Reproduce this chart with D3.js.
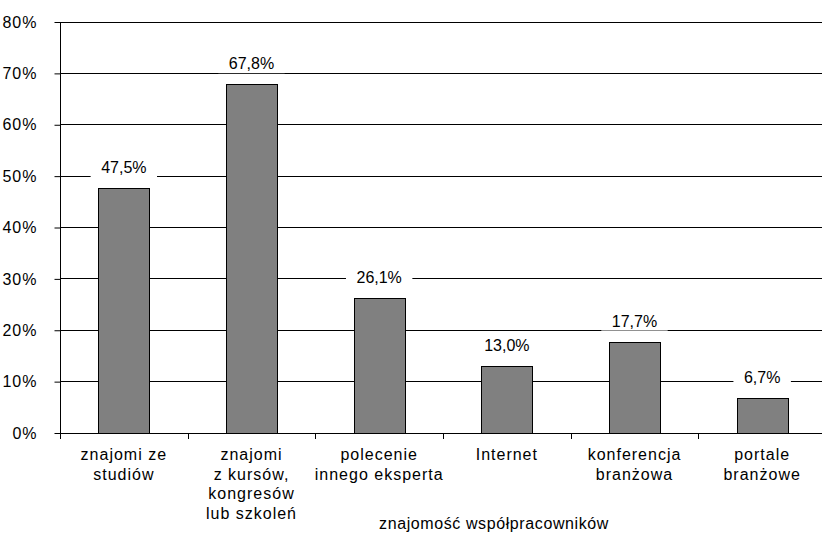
<!DOCTYPE html>
<html>
<head>
<meta charset="utf-8">
<script src="https://cdn.jsdelivr.net/npm/d3@7"></script>
<style>
  html, body { margin: 0; padding: 0; background: #fff; overflow: hidden; }
  svg { display: block; }
  text { font-family: "Liberation Sans", Arial, sans-serif; fill: #000; }
</style>
</head>
<body>
<svg id="chart" width="822" height="534"></svg>
<script>
// Źródła kontaktu z ekspertem
const categories = [
  ["znajomi ze", "studiów"],
  ["znajomi", "z kursów,", "kongresów", "lub szkoleń"],
  ["polecenie", "innego eksperta"],
  ["Internet"],
  ["konferencja", "branżowa"],
  ["portale", "branżowe"]
];
const values = [47.5, 67.8, 26.1, 13.0, 17.7, 6.7];
const yTicks = [0, 10, 20, 30, 40, 50, 60, 70, 80];
const axisTitle = "znajomość  współpracowników";

const svg = d3.select("#chart");
const W = 822, H = 534;
const x0 = 60, x1 = 826;
const yTop = 21.5, yBot = 432.5;

const x = d3.scaleBand().domain(d3.range(categories.length)).range([x0, x1]).paddingInner(0.6).paddingOuter(0.3);
const xb = d3.scaleBand().domain(d3.range(categories.length)).range([x0, x1]);
const y = d3.scaleLinear().domain([0, 80]).range([yBot, yTop]);
const fmt = v => v.toFixed(1).replace(".", ",") + "%";

// gridlines
svg.append("g").selectAll("line").data(yTicks.filter(t => t > 0)).join("line")
  .attr("x1", x0).attr("x2", W)
  .attr("y1", d => Math.round(y(d)) + 0.5).attr("y2", d => Math.round(y(d)) + 0.5)
  .attr("stroke", "#000").attr("stroke-width", 1);

// y axis
const yAxis = d3.axisLeft(y).tickValues(yTicks).tickSize(6).tickPadding(17).tickFormat(d => d + "%");
const gy = svg.append("g").attr("transform", `translate(${x0 + 0.5},0.5)`).call(yAxis);
gy.select(".domain").attr("stroke", "#000").attr("d", `M0,${yTop}V${yBot}`);
gy.selectAll(".tick line").attr("stroke", "#000");
gy.selectAll(".tick text").style("font-size", "16px").style("letter-spacing", "1px")
  .attr("font-family", "Liberation Sans, Arial, sans-serif").attr("fill", "#000");

// bars
svg.append("g").selectAll("rect").data(values).join("rect")
  .attr("x", (d, i) => Math.round(x(i)) + 0.5)
  .attr("y", d => Math.round(y(d)) + 0.5)
  .attr("width", Math.round(x.bandwidth()))
  .attr("height", d => Math.round(y(0)) - Math.round(y(d)))
  .attr("fill", "#808080").attr("stroke", "#000").attr("stroke-width", 1);

// x axis line and category separators
const gx = svg.append("g");
gx.append("line").attr("x1", x0).attr("x2", W)
  .attr("y1", Math.round(yBot) + 0.5).attr("y2", Math.round(yBot) + 0.5).attr("stroke", "#000");
gx.selectAll("line.sep").data(d3.range(categories.length + 1)).join("line").attr("class", "sep")
  .attr("x1", i => Math.round(x0 + i * xb.step()) + 0.5).attr("x2", i => Math.round(x0 + i * xb.step()) + 0.5)
  .attr("y1", Math.round(yBot)).attr("y2", Math.round(yBot) + 6).attr("stroke", "#000");

// category labels
const cl = svg.append("g").selectAll("text").data(categories).join("text")
  .attr("text-anchor", "middle").style("font-size", "16px").style("letter-spacing", "1px")
  .attr("x", (d, i) => xb(i) + xb.bandwidth() / 2)
  .attr("y", 460);
cl.selectAll("tspan").data(d => d).join("tspan")
  .attr("x", function () { return d3.select(this.parentNode).attr("x"); })
  .attr("dy", (d, i) => i === 0 ? 0 : 19.5)
  .text(d => d);

// value labels on white boxes
const lg = svg.append("g").selectAll("g").data(values).join("g")
  .attr("transform", (d, i) => `translate(${x(i) + x.bandwidth() / 2},${y(d) - 15})`);
lg.append("text").attr("text-anchor", "middle")
  .attr("font-family", "'Liberation Sans Narrow', 'Arial Narrow', sans-serif")
  .style("font-size", "16px").text(d => fmt(d));
lg.each(function () {
  const g = d3.select(this);
  const bb = g.select("text").node().getBBox();
  g.insert("rect", "text").attr("x", bb.x - 10.5).attr("y", bb.y - 1)
    .attr("width", bb.width + 21).attr("height", bb.height + 2).attr("fill", "#fff");
});

// axis title
svg.append("text").attr("x", 494).attr("y", 529).attr("text-anchor", "middle")
  .style("font-size", "16px").style("letter-spacing", "0.6px").text(axisTitle);
</script>
</body>
</html>
